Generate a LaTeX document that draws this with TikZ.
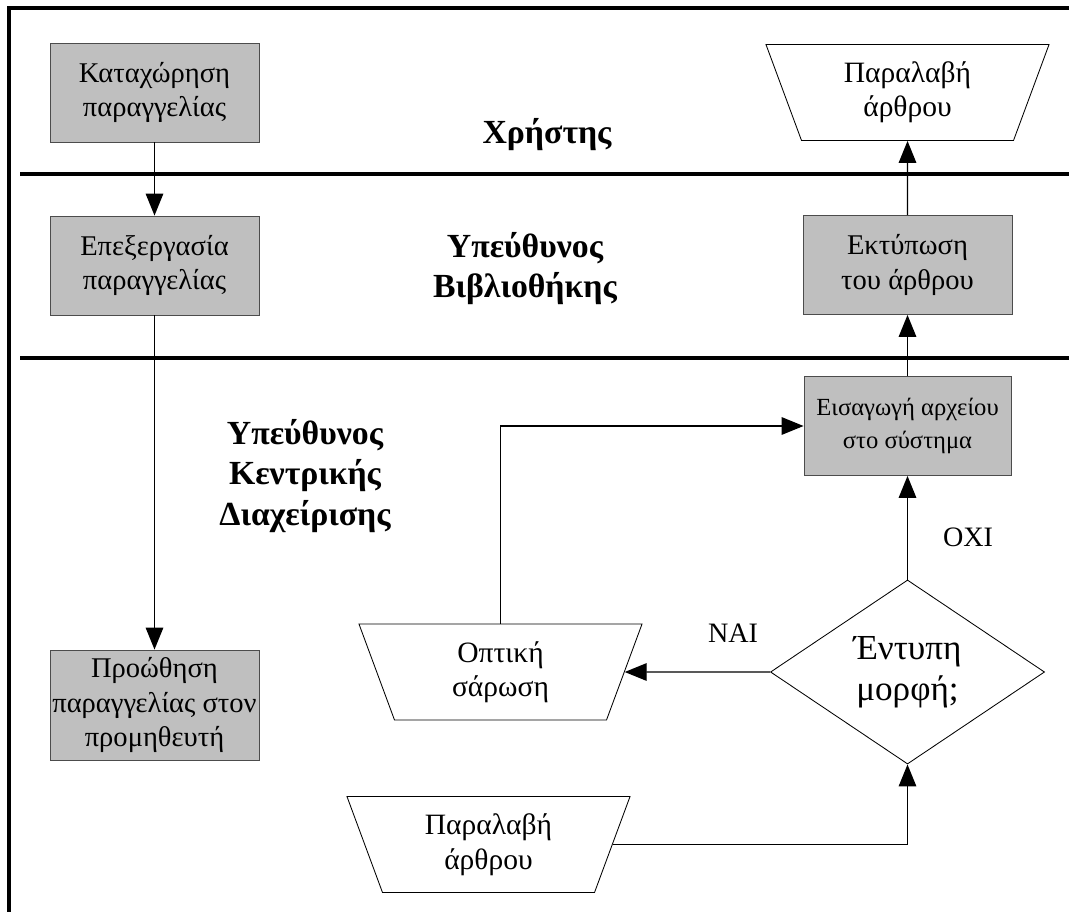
\documentclass[tikz,border=0pt]{standalone}
\usepackage{fontspec}
\setmainfont{Liberation Serif}
\usetikzlibrary{shapes.geometric,arrows.meta}

\begin{document}
\begin{tikzpicture}[x=0.025cm, y=-0.025cm,
	box/.style={rectangle, draw=black!70, fill=black!25, line width=0.6pt, minimum width=5.225cm, minimum height=2.475cm, inner sep=1pt, align=center, font=\fontsize{20.3}{24.5}\selectfont},
	manual/.style={trapezium, shape border rotate=180, trapezium angle=60, trapezium stretches body, draw, line width=0.6pt, minimum width=7.075cm, minimum height=2.4cm, inner sep=0pt, align=center, font=\fontsize{21}{24.5}\selectfont},
	decision/.style={diamond, draw, line width=0.6pt, minimum width=6.85cm, minimum height=4.6cm, aspect=1.5, inner sep=0pt, align=center, font=\fontsize{25}{29.5}\selectfont},
	lane/.style={align=center, font=\bfseries\fontsize{24}{28.5}\selectfont},
	lbl/.style={font=\fontsize{20}{24}\selectfont},
	arr/.style={-{Triangle[length=5.5mm, width=4.4mm]}, line width=0.9pt}]

	\useasboundingbox (0,0) rectangle (1069,912);

	% frame and swimlane separators
	\draw[line width=2.2pt] (1069,8) -- (9,8) -- (9,912);
	\draw[line width=2.8pt] (20,174) -- (1069,174);
	\draw[line width=2.8pt] (20,358) -- (1069,358);

	% lane titles
	\node[lane] (user) at (547,135) {Χρήστης};
	\node[lane] (lib) at (525,269) {Υπεύθυνος\\Βιβλιοθήκης};
	\node[lane] (central) at (305,476) {Υπεύθυνος\\Κεντρικής\\Διαχείρισης};

	% left column
	\node[box] (order) at (154.5,92.5) {Καταχώρηση\\παραγγελίας};
	\node[box] (process) at (154.5,265.5) {Επεξεργασία\\παραγγελίας};
	\node[box, minimum height=2.75cm] (forward) at (154.5,705) {Προώθηση\\παραγγελίας στον\\προμηθευτή};

	% right column
	\node[manual] (recvtop) at (907.5,92.5) {Παραλαβή\\άρθρου};
	\node[box] (print) at (907.5,265) {Εκτύπωση\\του άρθρου};
	\node[box, minimum width=5.175cm, font=\fontsize{17.5}{23.5}\selectfont] (insert) at (907.5,426) {Εισαγωγή αρχείου\\στο σύστημα};
	\node[decision] (printed) at (907.5,672) {Έντυπη\\μορφή;};
	\node[manual] (scan) at (500.5,672) {Οπτική\\σάρωση};
	\node[manual] (recvbot) at (488.5,844.5) {Παραλαβή\\άρθρου};

	% branch labels
	\node[lbl] (yes) at (733,633) {ΝΑΙ};
	\node[lbl] (no) at (968,537) {ΟΧΙ};

	% Draw the edges between nodes
	\draw[arr] (order) -- (process);
	\draw[arr] (process) -- (forward);
	\draw[arr] (recvbot) -| (printed);
	\draw[arr] (printed) -- (scan);
	\draw[arr] (printed) -- (insert);
	\draw[arr] (scan) |- (insert);
	\draw[arr] (insert) -- (print);
	\draw[arr] (print) -- (recvtop);
\end{tikzpicture}
\end{document}
